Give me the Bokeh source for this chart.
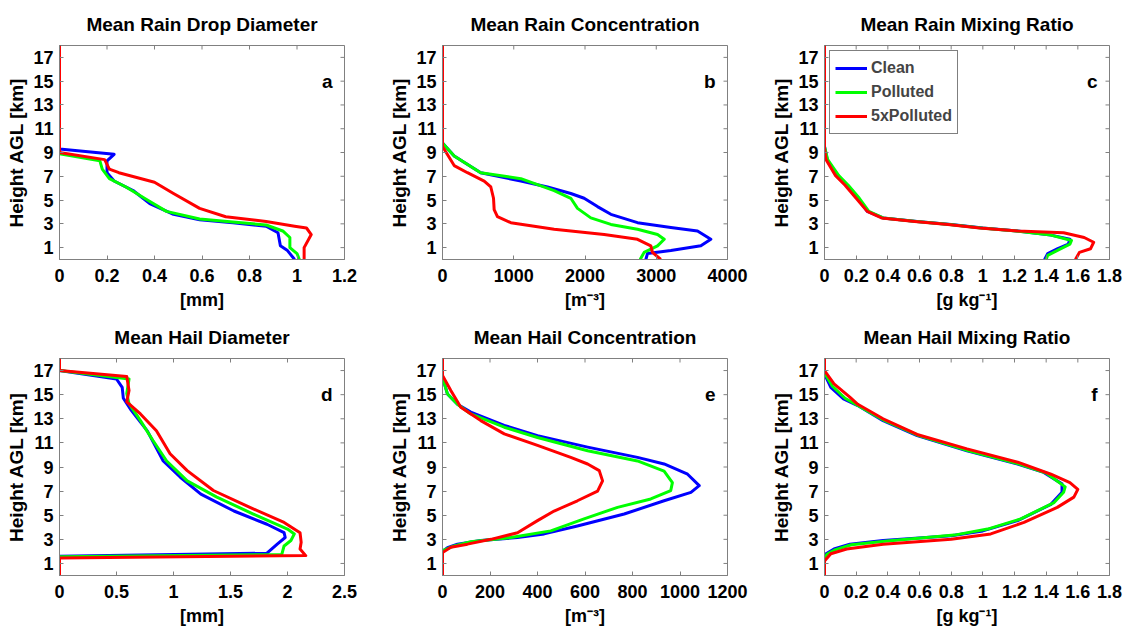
import math
from bokeh.plotting import figure
from bokeh.layouts import column, row
from bokeh.models import Range1d, FixedTicker, NumeralTickFormatter, Label, Legend
from bokeh.embed import file_html
from bokeh.resources import INLINE

# ---------------- data ----------------
series_names = ["Clean", "Polluted", "5xPolluted"]
series_colors = ["#0000ff", "#00ff00", "#ff0000"]
y_ticks = [1, 3, 5, 7, 9, 11, 13, 15, 17]
y_max = 18

# (a) Mean Rain Drop Diameter [mm]
a_xticks = [0, 0.2, 0.4, 0.6, 0.8, 1.0, 1.2]
a_h_clean = [18, 9.3, 8.85, 8.3, 7.3, 6.6, 5.8, 4.7, 3.8, 3.35, 3.1, 2.8, 2.25, 1.15, 0.75, 0.0]
a_x_clean = [0, 0, 0.23, 0.20, 0.20, 0.23, 0.31, 0.38, 0.48, 0.59, 0.73, 0.87, 0.92, 0.93, 0.96, 0.99]
a_h_poll = [18, 8.9, 8.3, 7.6, 6.8, 6.1, 5.0, 4.05, 3.4, 3.15, 2.9, 2.4, 1.85, 1.0, 0.5, 0.0]
a_x_poll = [0, 0, 0.17, 0.18, 0.21, 0.28, 0.37, 0.45, 0.59, 0.73, 0.87, 0.94, 0.97, 0.97, 1.0, 1.01]
a_h_5x = [18, 9.0, 8.4, 7.6, 7.3, 6.5, 5.55, 4.3, 3.6, 3.2, 2.8, 2.65, 2.1, 1.0, 0.0]
a_x_5x = [0, 0, 0.19, 0.21, 0.25, 0.40, 0.48, 0.59, 0.70, 0.87, 0.99, 1.04, 1.06, 1.03, 1.03]

# (b) Mean Rain Concentration [m-3]
b_xticks = [0, 1000, 2000, 3000, 4000]
b_h_clean = [18, 9.8, 8.7, 7.3, 6.6, 6.1, 5.55, 5.15, 4.45, 3.8, 3.1, 2.7, 2.4, 1.7, 1.15, 0.75, 0.5, 0.0]
b_x_clean = [0, 0, 164, 536, 1100, 1474, 1801, 1988, 2175, 2363, 2737, 3205, 3579, 3766, 3626, 3205, 2877, 2854]
b_h_poll = [18, 9.8, 8.7, 7.3, 6.8, 5.8, 5.15, 4.3, 3.5, 2.95, 2.55, 2.1, 1.7, 1.15, 0.6, 0.0]
b_x_poll = [0, 0, 164, 536, 1100, 1567, 1801, 1895, 2082, 2363, 2737, 3018, 3112, 3018, 2830, 2774]
b_h_5x = [18, 9.5, 7.9, 7.3, 6.6, 6.1, 5.15, 4.2, 3.6, 3.1, 2.55, 2.1, 1.7, 1.15, 0.6, 0.0]
b_x_5x = [0, 0, 164, 350, 585, 678, 716, 725, 771, 959, 1567, 2269, 2737, 2924, 2947, 3064]

# (c) Mean Rain Mixing Ratio [g kg-1]
c_xticks = [0, 0.2, 0.4, 0.6, 0.8, 1.0, 1.2, 1.4, 1.6, 1.8]
c_h_clean = [18, 9.5, 8.4, 7.05, 6.25, 5.15, 4.05, 3.5, 3.2, 2.95, 2.65, 2.4, 2.05, 1.7, 1.3, 0.9, 0.5, 0.0]
c_x_clean = [0, 0, 0.017, 0.08, 0.14, 0.21, 0.27, 0.37, 0.585, 0.80, 1.0, 1.22, 1.43, 1.55, 1.54, 1.47, 1.41, 1.39]
c_h_poll = [18, 9.5, 8.4, 7.05, 6.25, 5.15, 4.05, 3.5, 3.2, 2.95, 2.65, 2.4, 2.05, 1.6, 1.3, 0.9, 0.35, 0.0]
c_x_poll = [0, 0, 0.02, 0.09, 0.15, 0.22, 0.28, 0.37, 0.58, 0.79, 0.99, 1.21, 1.43, 1.56, 1.55, 1.49, 1.41, 1.40]
c_h_5x = [18, 9.3, 8.4, 7.05, 6.25, 5.15, 4.05, 3.5, 3.2, 2.95, 2.65, 2.4, 2.25, 1.85, 1.45, 0.9, 0.6, 0.0]
c_x_5x = [0, 0, 0.01, 0.07, 0.13, 0.20, 0.27, 0.36, 0.57, 0.78, 0.98, 1.22, 1.51, 1.64, 1.70, 1.68, 1.61, 1.585]

# (d) Mean Hail Diameter [mm]
d_xticks = [0, 0.5, 1.0, 1.5, 2.0, 2.5]
d_h_clean = [18, 17.0, 16.3, 15.6, 14.7, 13.7, 12.0, 9.5, 8.15, 6.75, 5.35, 4.25, 3.55, 3.15, 2.6, 1.85, 1.6, 0.0]
d_x_clean = [0, 0, 0.50, 0.55, 0.56, 0.63, 0.77, 0.91, 1.06, 1.24, 1.53, 1.82, 1.97, 1.98, 1.91, 1.82, 0, 0]
d_h_poll = [18, 17.0, 16.3, 15.1, 14.25, 12.85, 11.2, 9.5, 7.85, 6.5, 5.1, 3.85, 3.45, 2.9, 2.45, 1.75, 1.55, 0.0]
d_x_poll = [0, 0, 0.61, 0.59, 0.61, 0.71, 0.82, 0.94, 1.12, 1.38, 1.70, 2.0, 2.06, 2.03, 1.97, 1.95, 0, 0]
d_h_5x = [18, 17.0, 16.5, 15.35, 14.4, 13.4, 12.0, 10.1, 8.7, 7.05, 5.65, 4.4, 3.55, 2.75, 2.2, 1.65, 1.45, 0.0]
d_x_5x = [0, 0, 0.59, 0.61, 0.59, 0.71, 0.85, 0.97, 1.12, 1.35, 1.67, 1.97, 2.11, 2.12, 2.11, 2.16, 0, 0]

# (e) Mean Hail Concentration [m-3]
e_xticks = [0, 200, 400, 600, 800, 1000, 1200]
e_h_clean = [18, 16.45, 15.05, 14.2, 13.55, 12.45, 11.6, 10.65, 9.8, 9.25, 8.4, 7.45, 6.9, 6.2, 5.1, 4.1, 3.45, 3.15, 2.9, 2.6, 2.3, 2.05, 1.9, 0.0]
e_x_clean = [0, 0, 21, 63, 119, 260, 400, 611, 821, 933, 1032, 1081, 1046, 933, 765, 568, 428, 316, 161, 63, 21, 4, 0, 0]
e_h_poll = [18, 16.45, 15.05, 14.2, 13.4, 12.3, 11.45, 10.35, 9.5, 8.65, 7.7, 7.05, 6.35, 5.65, 4.7, 3.7, 3.15, 2.8, 2.45, 2.05, 0.0]
e_x_poll = [0, 0, 21, 63, 119, 260, 400, 611, 821, 933, 968, 961, 877, 737, 596, 456, 288, 119, 49, 0, 0]
e_h_5x = [18, 16.6, 15.35, 13.95, 12.85, 11.75, 10.8, 9.8, 9.25, 8.7, 7.85, 7.0, 6.2, 5.35, 4.55, 3.55, 3.0, 2.6, 2.35, 1.9, 0.0]
e_x_5x = [0, 0, 35, 77, 161, 260, 400, 540, 611, 660, 674, 653, 568, 470, 400, 316, 204, 105, 35, 0, 0]

# (f) Mean Hail Mixing Ratio [g kg-1]
f_xticks = [0, 0.2, 0.4, 0.6, 0.8, 1.0, 1.2, 1.4, 1.6, 1.8]
f_h_clean = [18, 16.7, 15.6, 14.65, 14.1, 12.85, 11.6, 10.35, 9.25, 8.55, 7.6, 6.9, 5.9, 4.55, 3.7, 3.3, 2.9, 2.6, 2.2, 1.8, 1.35, 0.0]
f_x_clean = [0, 0, 0.04, 0.12, 0.21, 0.37, 0.585, 0.90, 1.22, 1.385, 1.50, 1.50, 1.43, 1.22, 1.0, 0.80, 0.37, 0.16, 0.06, 0.01, 0, 0]
f_h_poll = [18, 16.8, 15.7, 14.7, 14.1, 12.85, 11.6, 10.35, 9.25, 8.5, 7.35, 6.9, 6.05, 4.7, 3.85, 3.35, 2.85, 2.55, 2.15, 1.75, 1.3, 0.0]
f_x_poll = [0, 0, 0.05, 0.13, 0.21, 0.38, 0.595, 0.91, 1.23, 1.40, 1.52, 1.51, 1.45, 1.24, 1.03, 0.82, 0.38, 0.17, 0.07, 0.015, 0, 0]
f_h_5x = [18, 17.0, 15.9, 14.8, 14.2, 13.0, 11.7, 10.5, 9.4, 8.4, 7.7, 7.15, 6.5, 5.65, 4.4, 3.45, 3.0, 2.6, 2.2, 1.8, 1.2, 0.0]
f_x_5x = [0, 0, 0.06, 0.16, 0.21, 0.37, 0.585, 0.90, 1.22, 1.43, 1.55, 1.60, 1.575, 1.47, 1.26, 1.05, 0.80, 0.37, 0.14, 0.04, 0, 0]

# ---------------- styling ----------------
FONT = "Liberation Sans"
GREY = "#808080"


def style_axis(ax, ticks):
    ax.ticker = FixedTicker(ticks=ticks)
    ax.major_tick_in = 4
    ax.major_tick_out = 0
    ax.minor_tick_in = 0
    ax.minor_tick_out = 0
    ax.axis_line_color = GREY
    ax.major_tick_line_color = GREY
    ax.major_label_text_font = FONT
    ax.major_label_text_font_style = "bold"
    ax.major_label_text_font_size = "18px"
    ax.major_label_text_color = "black"
    ax.formatter = NumeralTickFormatter(format="0.[0]")
    ax.axis_label_text_font = FONT
    ax.axis_label_text_font_style = "bold"
    ax.axis_label_text_font_size = "18px"
    ax.axis_label_text_color = "black"


def panel(title, letter, xmax, xticks, xlabel, curves, width, height,
          bl, br, bt, bb, legend=False):
    p = figure(width=width, height=height, x_range=Range1d(0, xmax),
               y_range=Range1d(0, y_max), output_backend="svg",
               toolbar_location=None, min_border_left=bl, min_border_right=br,
               min_border_top=bt, min_border_bottom=bb)
    p.xgrid.visible = False
    p.ygrid.visible = False
    p.outline_line_color = GREY
    p.background_fill_color = "white"
    p.border_fill_color = "white"
    p.title.text = title
    p.title.align = "center"
    p.title.text_font = FONT
    p.title.text_font_style = "bold"
    p.title.text_font_size = "19px"
    p.title.text_color = "black"
    p.title.standoff = 22

    style_axis(p.xaxis[0], xticks)
    p.xaxis[0].axis_label = xlabel
    p.xaxis[0].major_label_standoff = 9
    p.xaxis[0].axis_label_standoff = 5
    style_axis(p.yaxis[0], y_ticks)
    p.yaxis[0].axis_label = "Height AGL [km]"
    p.yaxis[0].axis_label_text_font_size = "19px"
    p.yaxis[0].major_label_standoff = 6
    p.yaxis[0].axis_label_standoff = 3

    # inward ticks on the top and right edges of the box
    p.scatter(xticks, [y_max] * len(xticks), marker="dash", size=8,
              angle=math.pi / 2, line_color=GREY, line_width=1)
    p.scatter([xmax] * len(y_ticks), y_ticks, marker="dash", size=8,
              line_color=GREY, line_width=1)

    items = []
    for (xs, hs), name, col in zip(curves, series_names, series_colors):
        r = p.line(xs, hs, line_color=col, line_width=3, line_join="round")
        items.append((name, [r]))

    p.add_layout(Label(x=xmax, y=15, x_offset=-12, text=letter,
                       text_align="right", text_baseline="middle",
                       text_font=FONT, text_font_style="bold",
                       text_font_size="19px", text_color="black"))
    if legend:
        lg = Legend(items=items, location="top_left")
        lg.border_line_color = "black"
        lg.border_line_width = 1
        lg.background_fill_color = "white"
        lg.background_fill_alpha = 1
        lg.label_text_font = FONT
        lg.label_text_font_style = "bold"
        lg.label_text_font_size = "16px"
        lg.glyph_width = 32
        lg.glyph_height = 24
        lg.label_height = 24
        lg.label_standoff = 4
        lg.padding = 5
        lg.spacing = 0
        lg.margin = 5
        p.add_layout(lg)
    return p


pa = panel("Mean Rain Drop Diameter", "a", 1.2, a_xticks, "[mm]",
           [(a_x_clean, a_h_clean), (a_x_poll, a_h_poll), (a_x_5x, a_h_5x)],
           370, 312, 59, 26, 44, 50)
pb = panel("Mean Rain Concentration", "b", 4000, b_xticks, "[m\u207b\u00b3]",
           [(b_x_clean, b_h_clean), (b_x_poll, b_h_poll), (b_x_5x, b_h_5x)],
           380, 312, 72, 23, 44, 50)
pc = panel("Mean Rain Mixing Ratio", "c", 1.8, c_xticks, "[g kg\u207b\u00b9]",
           [(c_x_clean, c_h_clean), (c_x_poll, c_h_poll), (c_x_5x, c_h_5x)],
           377, 312, 74, 18, 44, 50, legend=True)
pd_ = panel("Mean Hail Diameter", "d", 2.5, d_xticks, "[mm]",
            [(d_x_clean, d_h_clean), (d_x_poll, d_h_poll), (d_x_5x, d_h_5x)],
            370, 321, 59, 26, 46, 58)
pe = panel("Mean Hail Concentration", "e", 1200, e_xticks, "[m\u207b\u00b3]",
           [(e_x_clean, e_h_clean), (e_x_poll, e_h_poll), (e_x_5x, e_h_5x)],
           380, 321, 72, 23, 46, 58)
pf = panel("Mean Hail Mixing Ratio", "f", 1.8, f_xticks, "[g kg\u207b\u00b9]",
           [(f_x_clean, f_h_clean), (f_x_poll, f_h_poll), (f_x_5x, f_h_5x)],
           377, 321, 74, 18, 46, 58)

layout = column(row(pa, pb, pc), row(pd_, pe, pf))
open("out.html", "w").write(file_html(layout, INLINE))
